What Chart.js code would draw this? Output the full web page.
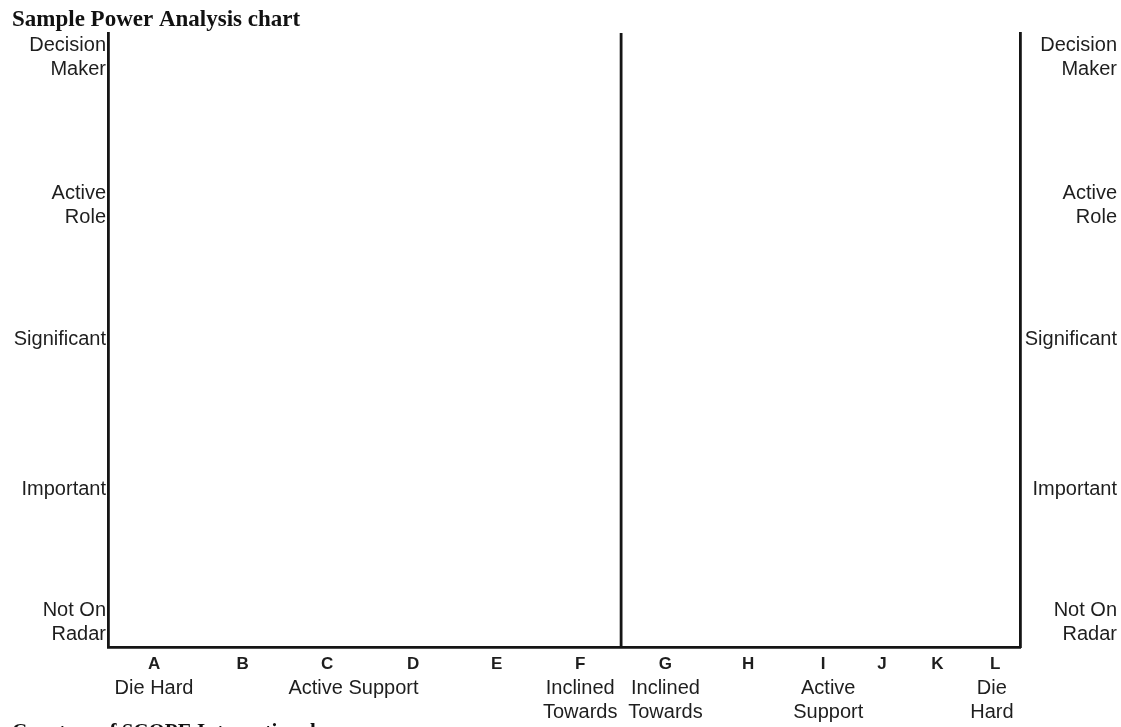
<!DOCTYPE html>
<html>
<head>
<meta charset="utf-8">
<title>Sample Power Analysis chart</title>
<script src="https://cdn.jsdelivr.net/npm/chart.js"></script>
<style>
  html, body { margin: 0; padding: 0; background: #fff; overflow: hidden; }
  canvas { display: block; }
</style>
</head>
<body>
<canvas id="myChart" width="1121" height="743"></canvas>
<script>
// power levels, bottom to top, and where they sit on the y scale
const yLabels = [['Not On', 'Radar'], 'Important', 'Significant', ['Active', 'Role'], ['Decision', 'Maker']];
const yValues = [0, 0.94, 2.0, 2.95, 4.0];
const yMin = -0.177;
const yMax = 4.17;

// stakeholder letters along the bottom
const xLetters = ['A', 'B', 'C', 'D', 'E', 'F', 'G', 'H', 'I', 'J', 'K', 'L'];
const xValues = [1, 2.04, 3.03, 4.04, 5.02, 6, 7, 7.97, 8.85, 9.54, 10.19, 10.87];
const xMin = 0.46;
const xMax = 11.16;

// attitude groups under the letters
const groupLabels = ['Die Hard', 'Active Support', ['Inclined', 'Towards'], ['Inclined', 'Towards'], ['Active', 'Support'], ['Die', 'Hard']];
const groupValues = [1, 3.34, 6, 7, 8.91, 10.83];

// the line splitting the two sides
const dividerX = 6.48;

const ink = '#151515';
const textCol = '#1e1e1e';

function fixTicks(values) {
    return function(scale) {
        scale.ticks = values.map(v => ({ value: v }));
    };
}

const config = {
    type: 'scatter',
    data: {
        datasets: [{
            label: 'divider',
            data: [{ x: dividerX, y: yMin }, { x: dividerX, y: yMax }],
            showLine: true,
            borderColor: ink,
            borderWidth: 2.8,
            pointRadius: 0,
            xAxisID: 'x',
            yAxisID: 'y'
        }]
    },
    options: {
        responsive: false,
        animation: false,
        layout: { padding: { left: 12, right: 4, top: 0, bottom: 0 } },
        plugins: {
            legend: { display: false },
            tooltip: { enabled: false },
            title: {
                display: true,
                text: 'Sample Power Analysis chart',
                align: 'start',
                color: '#111',
                font: { family: 'Liberation Serif', size: 23, weight: 'bold', lineHeight: 1 },
                padding: { top: 9, bottom: 1 }
            },
            subtitle: {
                display: true,
                position: 'bottom',
                text: 'Courtesy of SCOPE International',
                align: 'start',
                color: '#111',
                font: { family: 'Liberation Serif', size: 21, weight: 'bold', lineHeight: 1 },
                padding: 0
            }
        },
        scales: {
            x: {
                type: 'linear',
                position: 'bottom',
                weight: 0,
                min: xMin,
                max: xMax,
                afterBuildTicks: fixTicks(xValues),
                afterFit: function(scale) { scale.height = 24; },
                grid: { display: false, drawTicks: false },
                border: { display: true, color: ink, width: 2.8 },
                ticks: {
                    autoSkip: false,
                    maxRotation: 0,
                    padding: 7,
                    color: textCol,
                    font: { family: 'Liberation Sans', size: 17, weight: 'bold', lineHeight: 1.2 },
                    callback: function(value, index) { return xLetters[index]; }
                }
            },
            x2: {
                type: 'linear',
                position: 'bottom',
                weight: 1,
                min: xMin,
                max: xMax,
                afterBuildTicks: fixTicks(groupValues),
                afterFit: function(scale) { scale.height = 51; },
                grid: { display: false, drawTicks: false },
                border: { display: false },
                ticks: {
                    autoSkip: false,
                    maxRotation: 0,
                    padding: 5,
                    color: textCol,
                    font: { family: 'Liberation Sans', size: 20, lineHeight: 1.2 },
                    callback: function(value, index) { return groupLabels[index]; }
                }
            },
            y: {
                type: 'linear',
                position: 'left',
                min: yMin,
                max: yMax,
                afterBuildTicks: fixTicks(yValues),
                afterFit: function(scale) { scale.width = 96; },
                grid: { display: false, drawTicks: false },
                border: { display: true, color: ink, width: 2.8 },
                ticks: {
                    autoSkip: false,
                    padding: 2,
                    color: textCol,
                    font: { family: 'Liberation Sans', size: 20, lineHeight: 1.2 },
                    callback: function(value, index) { return yLabels[index]; }
                }
            },
            y2: {
                type: 'linear',
                position: 'right',
                min: yMin,
                max: yMax,
                afterBuildTicks: fixTicks(yValues),
                afterFit: function(scale) { scale.width = 97; },
                grid: { display: false, drawTicks: false },
                border: { display: true, color: ink, width: 2.8 },
                ticks: {
                    autoSkip: false,
                    padding: 2,
                    crossAlign: 'far',
                    color: textCol,
                    font: { family: 'Liberation Sans', size: 20, lineHeight: 1.2 },
                    callback: function(value, index) { return yLabels[index]; }
                }
            }
        }
    }
};

const myChart = new Chart(document.getElementById('myChart'), config);
</script>
</body>
</html>
